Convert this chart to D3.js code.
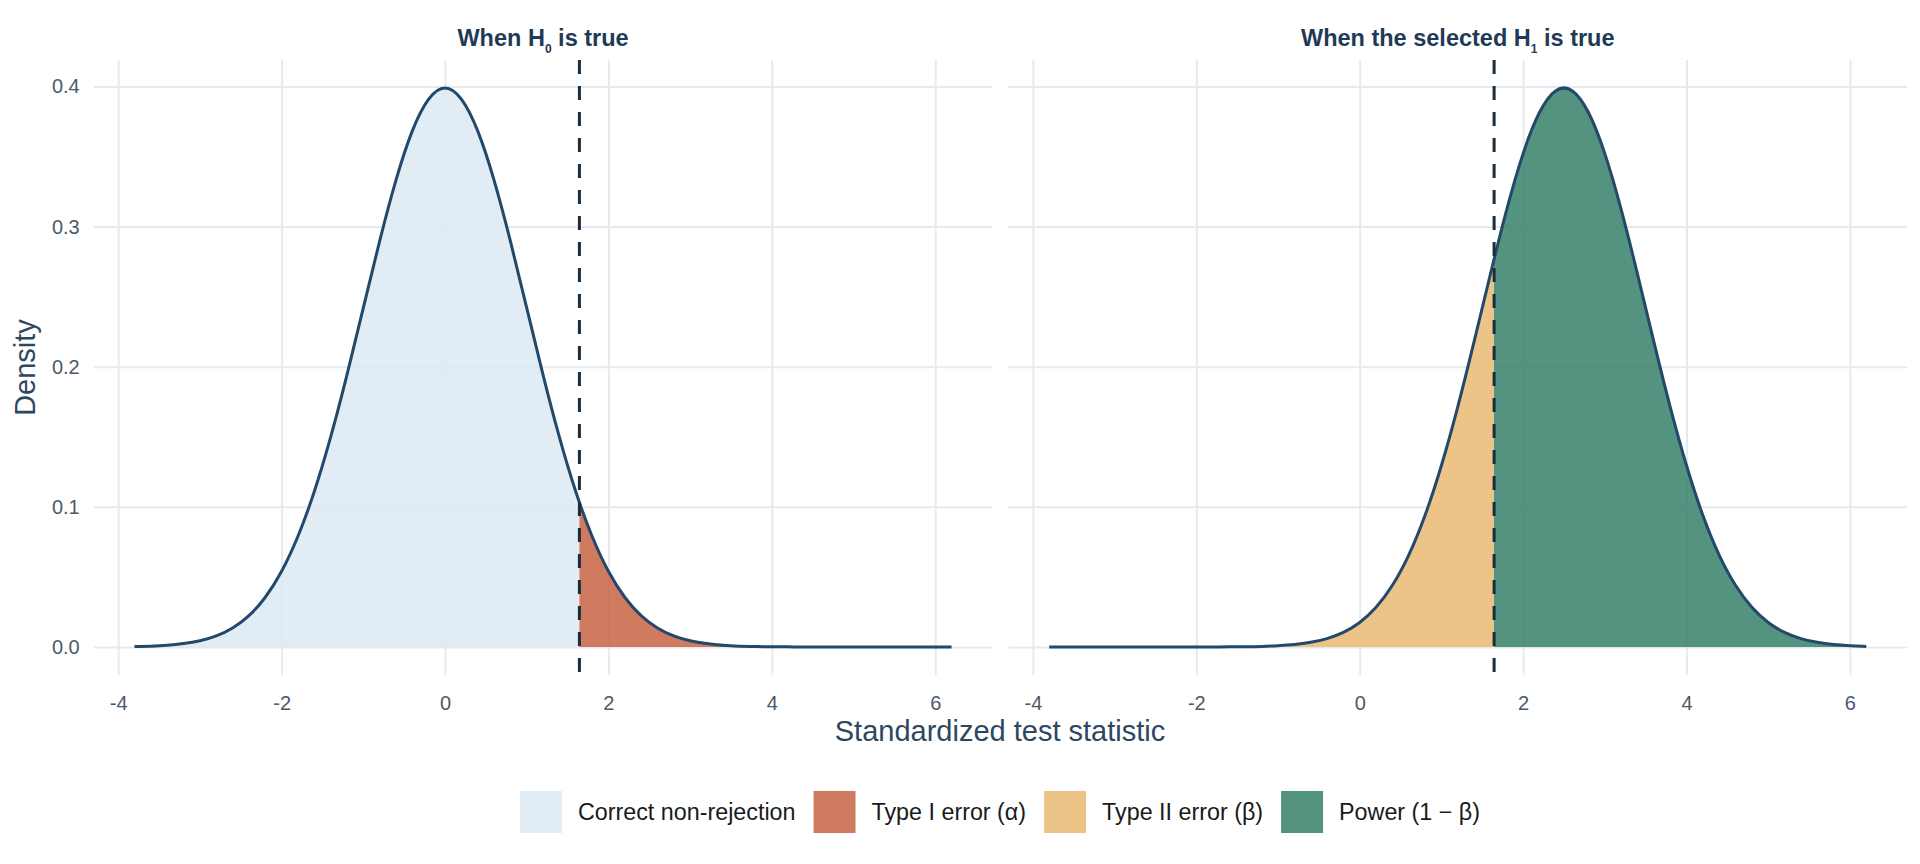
<!DOCTYPE html>
<html>
<head>
<meta charset="utf-8">
<script src="https://cdn.jsdelivr.net/npm/d3@7"></script>
<style>
  body { margin: 0; background: #fff; }
  svg { font-family: "Liberation Sans", Arial, sans-serif; }
</style>
</head>
<body>
<script>
// grid of test statistic values (shared by both panels)
var xValues = [-3.8, -3.6, -3.4, -3.2, -3.0, -2.8, -2.6, -2.4, -2.2, -2.0,
  -1.8, -1.6, -1.4, -1.2, -1.0, -0.8, -0.6, -0.4, -0.2, 0.0,
  0.2, 0.4, 0.6, 0.8, 1.0, 1.2, 1.4, 1.6, 1.8, 2.0,
  2.2, 2.4, 2.6, 2.8, 3.0, 3.2, 3.4, 3.6, 3.8, 4.0,
  4.2, 4.4, 4.6, 4.8, 5.0, 5.2, 5.4, 5.6, 5.8, 6.0, 6.2];

// density under H0
var densityH0 = [0.0003, 0.0006, 0.0012, 0.0024, 0.0044, 0.0079, 0.0136, 0.0224, 0.0355, 0.0540,
  0.0790, 0.1109, 0.1497, 0.1942, 0.2420, 0.2897, 0.3332, 0.3683, 0.3910, 0.3989,
  0.3910, 0.3683, 0.3332, 0.2897, 0.2420, 0.1942, 0.1497, 0.1109, 0.0790, 0.0540,
  0.0355, 0.0224, 0.0136, 0.0079, 0.0044, 0.0024, 0.0012, 0.0006, 0.0003, 0.0001,
  0.0001, 0, 0, 0, 0, 0, 0, 0, 0, 0, 0];

// density under the selected H1
var densityH1 = [0, 0, 0, 0, 0, 0, 0, 0, 0, 0,
  0, 0.0001, 0.0002, 0.0004, 0.0009, 0.0017, 0.0033, 0.0060, 0.0104, 0.0175,
  0.0283, 0.0440, 0.0656, 0.0940, 0.1295, 0.1714, 0.2179, 0.2661, 0.3123, 0.3521,
  0.3814, 0.3970, 0.3970, 0.3814, 0.3521, 0.3123, 0.2661, 0.2179, 0.1714, 0.1295,
  0.0940, 0.0656, 0.0440, 0.0283, 0.0175, 0.0104, 0.0060, 0.0033, 0.0017, 0.0009, 0.0004];

var criticalValue = 1.645;

var xTicks = [-4, -2, 0, 2, 4, 6];
var yTicks = [0, 0.1, 0.2, 0.3, 0.4];

var legendLabels = ["Correct non-rejection", "Type I error (\u03b1)", "Type II error (\u03b2)", "Power (1 \u2212 \u03b2)"];
var legendColors = ["#dce9f2", "#c86344", "#eaba73", "#358069"];

var svgWidth = 1920;
var svgHeight = 864;

var panelTop = 60, panelBottom = 675;
var panels = [
  { left: 93.7, right: 992.4, data: densityH0, fills: [legendColors[0], legendColors[1]], showY: true },
  { left: 1008.4, right: 1907.1, data: densityH1, fills: [legendColors[2], legendColors[3]], showY: false }
];

var svg = d3.select("body")
  .append("svg")
  .attr("width", svgWidth)
  .attr("height", svgHeight);

var defs = svg.append("defs");

var yScale = d3.scaleLinear()
  .domain([-0.02, 0.4189])
  .range([panelBottom, panelTop]);

panels.forEach(function(p, i) {
  var xScale = d3.scaleLinear()
    .domain([-4.3, 6.7])
    .range([p.left, p.right]);

  var g = svg.append("g");

  // horizontal grid + y tick labels
  var yAxis = d3.axisLeft(yScale)
    .tickValues(yTicks)
    .tickSize(-(p.right - p.left))
    .tickPadding(14)
    .tickFormat(d3.format(".1f"));
  var yg = g.append("g")
    .attr("transform", `translate(${p.left},0)`)
    .call(yAxis);
  yg.select(".domain").remove();
  yg.selectAll(".tick line").attr("stroke", "#e6eaf0").attr("stroke-width", 2);
  yg.selectAll(".tick text")
    .attr("fill", "#4a5a6b")
    .style("font-size", "20px")
    .style("display", p.showY ? null : "none");

  // vertical grid + x tick labels
  var xAxis = d3.axisBottom(xScale)
    .tickValues(xTicks)
    .tickSize(-(panelBottom - panelTop))
    .tickPadding(21)
    .tickFormat(d3.format("d"));
  var xg = g.append("g")
    .attr("transform", `translate(0,${panelBottom})`)
    .call(xAxis);
  xg.select(".domain").remove();
  xg.selectAll(".tick line").attr("stroke", "#e6eaf0").attr("stroke-width", 2);
  xg.selectAll(".tick text")
    .attr("fill", "#4a5a6b")
    .style("font-size", "20px")
    .text(function(d) { return d < 0 ? "-" + Math.abs(d) : d; });

  var pts = xValues.map(function(x, k) { return { x: x, y: p.data[k] }; });

  // clip regions left / right of the critical value
  var cx = xScale(criticalValue);
  defs.append("clipPath").attr("id", "clipL" + i)
    .append("rect").attr("x", p.left).attr("y", 0)
    .attr("width", cx - p.left).attr("height", svgHeight);
  defs.append("clipPath").attr("id", "clipR" + i)
    .append("rect").attr("x", cx).attr("y", 0)
    .attr("width", p.right - cx).attr("height", svgHeight);

  var area = d3.area()
    .curve(d3.curveNatural)
    .x(d => xScale(d.x))
    .y0(yScale(0))
    .y1(d => yScale(Math.max(0, d.y)));

  g.append("path").datum(pts)
    .attr("d", area)
    .attr("fill", p.fills[0])
    .attr("fill-opacity", 0.85)
    .attr("clip-path", `url(#clipL${i})`);

  g.append("path").datum(pts)
    .attr("d", area)
    .attr("fill", p.fills[1])
    .attr("fill-opacity", 0.85)
    .attr("clip-path", `url(#clipR${i})`);

  var line = d3.line()
    .curve(d3.curveNatural)
    .x(d => xScale(d.x))
    .y(d => yScale(d.y));

  g.append("path").datum(pts)
    .attr("d", line)
    .attr("fill", "none")
    .attr("stroke", "#22486a")
    .attr("stroke-width", 3);

  // critical value
  g.append("line")
    .attr("x1", cx).attr("x2", cx)
    .attr("y1", panelTop).attr("y2", panelBottom)
    .attr("stroke", "#1b2c3c")
    .attr("stroke-width", 3)
    .attr("stroke-dasharray", "14,12");

  // panel title
  var title = g.append("text")
    .attr("x", (p.left + p.right) / 2)
    .attr("y", 46)
    .attr("text-anchor", "middle")
    .attr("fill", "#1e3a56")
    .style("font-size", "23.5px")
    .style("font-weight", "bold");
  title.append("tspan").text(i === 0 ? "When H" : "When the selected H");
  title.append("tspan").attr("dy", 7).style("font-size", "12px").text(i === 0 ? "0" : "1");
  title.append("tspan").attr("dy", -7).text(" is true");
});

// axis titles
svg.append("text")
  .attr("x", 1000)
  .attr("y", 741)
  .attr("text-anchor", "middle")
  .attr("fill", "#2d4761")
  .style("font-size", "29px")
  .text("Standardized test statistic");

svg.append("text")
  .attr("transform", `translate(35,${(panelTop + panelBottom) / 2}) rotate(-90)`)
  .attr("text-anchor", "middle")
  .attr("fill", "#2d4761")
  .style("font-size", "29px")
  .text("Density");

// legend
var legend = svg.append("g");
var keySize = 42, keyGap = 16, itemGap = 18;
var items = legend.selectAll("g.item")
  .data(legendLabels)
  .enter().append("g").attr("class", "item");

items.append("rect")
  .attr("width", keySize).attr("height", keySize)
  .attr("y", 791)
  .attr("fill", (d, k) => legendColors[k])
  .attr("fill-opacity", 0.85);

items.append("text")
  .attr("y", 812)
  .attr("dy", "0.35em")
  .attr("fill", "#1a1a1a")
  .style("font-size", "23.3px")
  .text(d => d);

var widths = [];
items.select("text").each(function() { widths.push(this.getComputedTextLength()); });
var total = d3.sum(widths) + legendLabels.length * (keySize + keyGap) + (legendLabels.length - 1) * itemGap;
var cursor = 1000 - total / 2;
items.each(function(d, k) {
  var it = d3.select(this);
  it.select("rect").attr("x", cursor);
  it.select("text").attr("x", cursor + keySize + keyGap);
  cursor += keySize + keyGap + widths[k] + itemGap;
});
</script>
</body>
</html>
